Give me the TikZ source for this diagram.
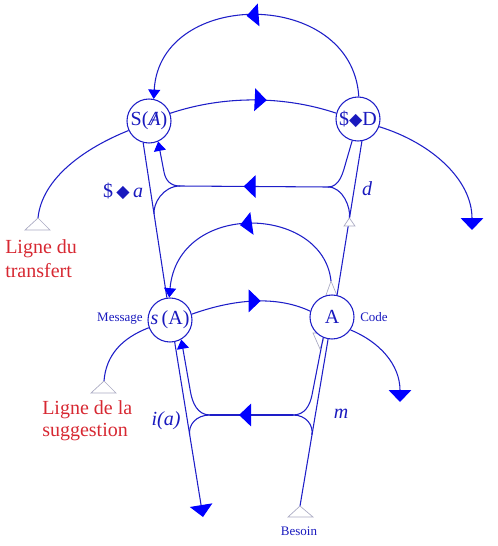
\documentclass[tikz,border=0pt]{standalone}
\usepackage{fontspec}
\setmainfont{Liberation Serif}
\newfontfamily\dejavu{DejaVu Sans}
\usetikzlibrary{arrows.meta,decorations.markings}
\definecolor{lineblue}{RGB}{30,30,200}
\definecolor{textblue}{RGB}{25,25,190}
\definecolor{redtxt}{RGB}{215,40,50}
\definecolor{grayline}{RGB}{170,170,195}
\newcommand{\blkdiam}[1]{{\dejavu\fontsize{#1}{#1}\selectfont ◆}}
\newcommand{\barA}{{\ooalign{\textit{A}\cr\hidewidth\textit{/}\hidewidth}}}
\tikzset{
  bigtri/.tip={Triangle[length=9pt,width=17pt,color=blue]},
  smalltri/.tip={Triangle[length=7pt,width=9pt,color=blue]},
  conn/.style={draw=lineblue,line width=0.8pt},
  midarrow/.style={postaction={decorate,decoration={markings,mark=at position #1 with {\arrow{bigtri}}}}},
  vertex/.style={circle,draw=lineblue,line width=0.8pt,fill=white,minimum size=33pt,inner sep=0pt,text=textblue,font=\fontsize{15}{18}\selectfont},
  hollow/.style={draw=grayline,fill=white,line width=0.5pt},
  lab/.style={text=textblue,inner sep=0pt,font=\fontsize{15}{18}\selectfont\itshape},
  smalllab/.style={text=textblue,inner sep=0pt,font=\fontsize{9.75}{11}\selectfont},
  redlab/.style={text=redtxt,inner sep=0pt,font=\fontsize{15}{17}\selectfont},
}
\begin{document}
\begin{tikzpicture}[x=0.75pt,y=-0.75pt]
\useasboundingbox (0,0) rectangle (497,546);
% small grey markers partly hidden by the circle A
\coordinate (aT) at (331,281);
\coordinate (aB) at (320,349);
\draw[hollow] (aT) -- (338,298) -- (325,298) -- cycle;
\draw[hollow] (aB) -- (326,333) -- (313,333) -- cycle;
% nodes
\node[vertex] (SA) at (149,121) {S(\barA)};
\node[vertex] (SD) at (358,119) {\$\blkdiam{13}D};
\node[vertex] (sA) at (170,320) {\textit{s}\,(A)};
\node[vertex] (A) at (332,317) {A};
% free ends
\coordinate (tT) at (38,218);
\coordinate (dR) at (472,230);
\coordinate (sT) at (104,381);
\coordinate (aR) at (400,402);
\coordinate (bL) at (203,517);
\coordinate (bT) at (300,506);
\coordinate (uL) at (180,186);
\coordinate (uR) at (328,187);
\coordinate (lL) at (210,415);
\coordinate (lR) at (293,415);
\coordinate (dT) at (349.4,218);
% top arc
\draw[conn,midarrow=0.53,-{smalltri}] (SD.88) .. controls (352,-12) and (160,-12) .. (SA.78);
% top horizontal
\draw[conn,midarrow=0.58] (SA.20) .. controls (225,95) and (285,96) .. (SD.165);
% transfert line
\draw[conn] (SA.205) .. controls (85,148) and (42,178) .. (tT);
% right curve of S<>D
\draw[conn,-{bigtri}] (SD.-20) .. controls (432,143) and (472,180) .. (dR);
% straight S(A) -> s(A)
\draw[conn] (SA.255) -- (sA.98);
% upper cusp
\draw[conn,midarrow=0.57] (uR) -- (uL);
\draw[conn,-{smalltri}] (uL) .. controls (170,186) and (165.6,180) .. (164,172) -- (SA.294);
\draw[conn] (uL) .. controls (163,186) and (152.7,204) .. (154.2,214);
\draw[conn] (SD.255) -- (346,162) .. controls (343.1,172) and (340,187) .. (uR);
\draw[conn] (uR) .. controls (343,187) and (351,208) .. (dT);
% d line
\draw[conn] (SD.280) -- (A.77);
\draw[hollow] (dT) -- (355,226) -- (344,226) -- cycle;
% middle arc
\draw[conn,midarrow=0.52,-{smalltri}] (aT) .. controls (323,205) and (178,200) .. (sA.92);
% middle horizontal
\draw[conn,midarrow=0.58] (sA.15) .. controls (240,297) and (280,297) .. (A.165);
% suggestion line
\draw[conn] (sA.200) .. controls (122,338) and (106,355) .. (sT);
% right curve of A
\draw[conn,-{bigtri}] (A.-35) .. controls (380,342) and (400,365) .. (aR);
% lower cusp
\draw[conn,midarrow=0.65] (lR) -- (lL);
\draw[conn,-{smalltri}] (lL) .. controls (197,415) and (192.3,402) .. (190.5,392) -- (sA.-60);
\draw[conn] (lL) .. controls (196,415) and (188.1,425) .. (189.7,435);
\draw[conn,-{bigtri}] (sA.-78) -- (bL);
\draw[conn] (A.247) -- (312,395) .. controls (310,405) and (305,415) .. (lR);
\draw[conn] (lR) .. controls (306,415) and (313.6,425) .. (311.9,435);
\draw[conn] (A.260) -- (bT);
% hollow triangles
\draw[hollow] (tT) -- (50,230) -- (25,230) -- cycle;
\draw[hollow] (sT) -- (116,393) -- (91,393) -- cycle;
\draw[hollow] (bT) -- (313,517) -- (288,517) -- cycle;
% labels
\node[lab,anchor=base] (lSa) at (123,197) {\upshape\$\,\blkdiam{13}\,\itshape a};
\node[lab,anchor=base] (ld) at (367,195) {d};
\node[lab,anchor=base] (lia) at (166,425) {i(a)};
\node[lab,anchor=base] (lm) at (341,418) {m};
\node[smalllab,anchor=base east] (lmsg) at (143,321) {Message};
\node[smalllab,anchor=base west] (lcode) at (360,321) {Code};
\node[smalllab,anchor=base] (lbes) at (299,535) {Besoin};
\node[redlab,anchor=base west] (ltr1) at (5,253) {Ligne du};
\node[redlab,anchor=base west] (ltr2) at (5,277) {transfert};
\node[redlab,anchor=base west] (lsg1) at (42,414) {Ligne de la};
\node[redlab,anchor=base west] (lsg2) at (42,436) {suggestion};
\end{tikzpicture}
\end{document}
